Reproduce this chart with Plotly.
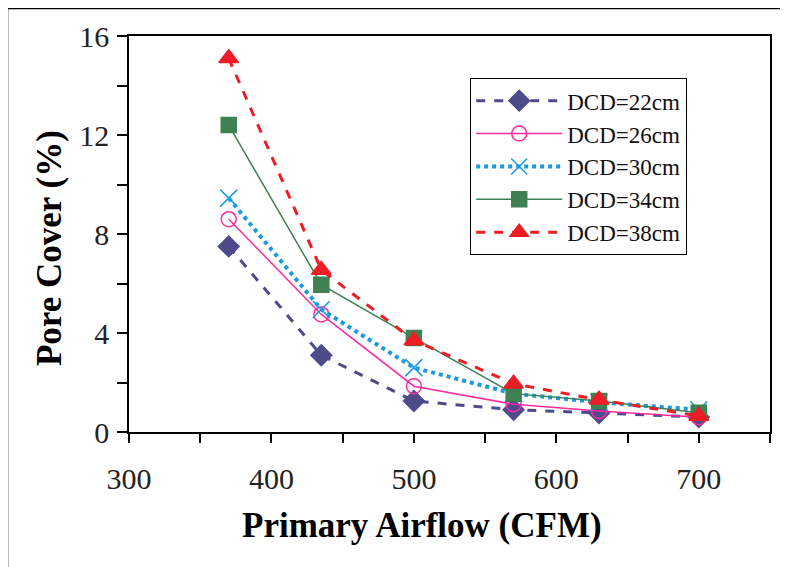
import plotly.graph_objects as go

airflow = [370, 435, 500, 570, 630, 700]
dcd22 = [7.5, 3.1, 1.25, 0.9, 0.77, 0.6]
dcd26 = [8.6, 4.75, 1.85, 1.12, 0.85, 0.6]
dcd30 = [9.45, 4.95, 2.6, 1.55, 1.2, 0.9]
dcd34 = [12.4, 5.95, 3.8, 1.55, 1.25, 0.78]
dcd38 = [15.1, 6.55, 3.7, 1.95, 1.3, 0.65]

names = ["DCD=22cm", "DCD=26cm", "DCD=30cm", "DCD=34cm", "DCD=38cm"]
series = [dcd22, dcd26, dcd30, dcd34, dcd38]
styles = [
    dict(color="#4e4b8b", dash="dash", width=3, symbol="diamond", size=16),
    dict(color="#ff2a9f", dash="solid", width=1.5, symbol="circle-open", size=15),
    dict(color="#1a9be0", dash="dot", width=4, symbol="x-thin-open", size=17),
    dict(color="#3f8055", dash="solid", width=1.5, symbol="square", size=15),
    dict(color="#ee1c25", dash="dash", width=3, symbol="triangle-up", size=17),
]

fig = go.Figure()
for name, ys, st in zip(names, series, styles):
    fig.add_trace(go.Scatter(
        x=airflow, y=ys, name=name, mode="lines+markers",
        line=dict(color=st["color"], dash=st["dash"], width=st["width"]),
        marker=dict(symbol=st["symbol"], size=st["size"], color=st["color"],
                    line=dict(color=st["color"], width=1.5)),
    ))

font_family = "Liberation Serif, Times New Roman, serif"
fig.update_layout(
    width=788, height=567,
    margin=dict(l=121, r=26, t=28, b=143),
    paper_bgcolor="white", plot_bgcolor="white",
    font=dict(family=font_family, color="black"),
    showlegend=True,
    legend=dict(
        x=0.532, y=0.894, xanchor="left", yanchor="top",
        bordercolor="black", borderwidth=1.2, bgcolor="white",
        font=dict(family=font_family, size=23, color="#111"),
        tracegroupgap=0, itemwidth=86,
    ),
    xaxis=dict(
        range=[300, 750], dtick=100, tick0=300,
        showgrid=False, zeroline=False,
        showline=True, linecolor="black", linewidth=1.5, mirror=True,
        ticks="outside", ticklen=9, tickwidth=1.5, tickcolor="black",
        minor=dict(dtick=50, ticks="outside", ticklen=9, tickwidth=1.5, tickcolor="black"),
        tickfont=dict(family=font_family, size=30, color="#222"),
        ticklabelstandoff=10,
    ),
    yaxis=dict(
        range=[0, 16], dtick=4, tick0=0,
        showgrid=False, zeroline=False,
        showline=True, linecolor="black", linewidth=1.5, mirror=True,
        ticks="outside", ticklen=10, tickwidth=1.5, tickcolor="black",
        minor=dict(dtick=2, ticks="outside", ticklen=10, tickwidth=1.5, tickcolor="black"),
        tickfont=dict(family=font_family, size=30, color="#222"),
        ticklabelstandoff=2,
    ),
    annotations=[
        dict(text="<b>Primary Airflow (CFM)</b>", xref="paper", yref="paper",
             x=0.457, y=-0.235, xanchor="center", yanchor="middle", showarrow=False,
             font=dict(family=font_family, size=35, color="black")),
        dict(text="<b>Pore Cover (%)</b>", xref="paper", yref="paper",
             x=-0.123, y=0.465, xanchor="center", yanchor="middle", showarrow=False,
             textangle=-90, font=dict(family=font_family, size=35, color="black")),
    ],
    shapes=[dict(type="rect", xref="paper", yref="paper",
                 x0=-0.1903, x1=1.0203, y0=-0.40, y1=1.0707,
                 line=dict(color="black", width=2.5), fillcolor="rgba(0,0,0,0)")],
)

fig.write_html("out.html")
